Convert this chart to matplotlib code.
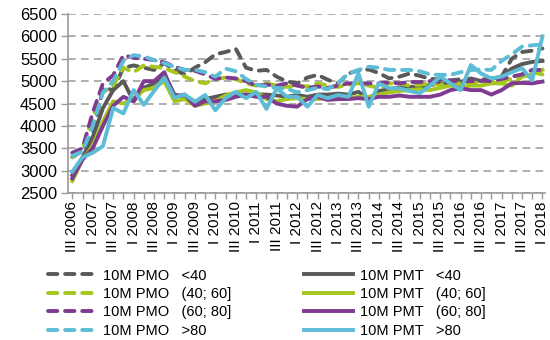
import matplotlib
matplotlib.use("Agg")
import matplotlib.pyplot as plt

plt.rcParams['font.family'] = ['Liberation Sans', 'DejaVu Sans']

# quarters III 2006 .. I 2018, labels on every second quarter
quarters = []
for year in range(2006, 2019):
    for q in ["I", "II", "III", "IV"]:
        quarters.append(q + " " + str(year))
quarters = quarters[2:49]

pmo_lt40 = [3300, 3450, 3800, 4850, 4800, 5300, 5350, 5300, 5250, 5400,
            5250, 5150, 5300, 5420, 5600, 5650, 5720, 5300, 5230, 5250,
            5100, 4990, 4950, 5080, 5140, 5030, 4950, 5170, 5240, 5260,
            5180, 5060, 5100, 5170, 5120, 5050, 5040, 5020, 5040, 5030,
            5030, 5060, 5100, 5500, 5650, 5680, 5730]
pmo_40_60 = [3300, 3500, 4200, 4750, 4900, 5300, 5200, 5350, 5320, 5290,
             5200, 5100, 5000, 4950, 5050, 5080, 5050, 4950, 4900, 4950,
             4900, 4870, 4900, 4880, 4950, 4900, 4870, 4920, 4950, 4900,
             4850, 4950, 4950, 4900, 4920, 4950, 4920, 4950, 4950, 4980,
             4950, 4970, 5000, 5050, 5150, 5200, 5150]
pmo_60_80 = [3400, 3500, 4300, 4950, 5130, 5580, 5520, 5500, 5470, 5420,
             5320, 5250, 5230, 5150, 5050, 5080, 5060, 5000, 4900, 4920,
             4900, 4950, 4900, 4850, 4880, 4850, 4900, 4950, 4950, 4950,
             4950, 4970, 4950, 4980, 4980, 5000, 4980, 5000, 5000, 5000,
             5010, 5000, 5050, 5100, 5150, 5250, 5250]
pmo_gt80 = [3330, 3430, 4000, 4750, 5000, 5450, 5580, 5550, 5470, 5400,
            5320, 5250, 5250, 5200, 5100, 5280, 5220, 5050, 4920, 4880,
            4850, 4830, 4750, 4800, 4850, 4820, 4950, 5170, 5250, 5320,
            5300, 5250, 5250, 5250, 5220, 5150, 5140, 5140, 5200, 5250,
            5260, 5250, 5450, 5600, 5770, 5800, 5820]
pmt_lt40 = [2900, 3300, 3750, 4400, 4800, 5000, 4550, 4850, 4950, 5150,
            4700, 4650, 4550, 4600, 4650, 4700, 4700, 4700, 4700, 4700,
            4680, 4650, 4690, 4650, 4700, 4700, 4720, 4700, 4760, 4600,
            4780, 4820, 4860, 4870, 4880, 4910, 4950, 4950, 4980, 5060,
            5000, 5050, 5100, 5280, 5380, 5430, 5450]
pmt_40_60 = [2770, 3250, 3550, 4100, 4550, 4500, 4600, 4800, 4850, 5000,
             4550, 4600, 4450, 4500, 4550, 4680, 4750, 4800, 4750, 4600,
             4550, 4600, 4620, 4600, 4600, 4620, 4650, 4620, 4650, 4650,
             4700, 4750, 4780, 4800, 4820, 4800, 4850, 4900, 4870, 4900,
             4900, 4950, 4950, 4900, 5100, 5150, 5250]
pmt_60_80 = [2830, 3250, 3500, 4000, 4450, 4650, 4550, 5000, 5000, 5200,
             4650, 4700, 4450, 4550, 4550, 4580, 4650, 4700, 4650, 4650,
             4500, 4450, 4430, 4600, 4650, 4580, 4600, 4600, 4620, 4600,
             4650, 4650, 4680, 4650, 4650, 4650, 4700, 4800, 4840, 4800,
             4800, 4700, 4800, 4950, 4960, 4950, 4990]
pmt_gt80 = [2980, 3300, 3400, 3550, 4400, 4280, 4800, 4470, 4780, 5080,
            4630, 4700, 4540, 4690, 4350, 4620, 4760, 4620, 4760, 4380,
            4840, 4650, 4650, 4430, 4690, 4620, 4690, 4650, 5170, 4430,
            4950, 4840, 4840, 4780, 4730, 4900, 5100, 4950, 4800, 5360,
            5170, 5060, 5100, 5200, 5290, 5020, 6000]

gray = '#595959'
lime = '#A5C61D'
purple = '#7E3B8F'
cyan = '#5DBCD6'

# excel series order (later on top)
series = [
    (pmo_lt40, gray, True, "10M PMO   <40"),
    (pmt_lt40, gray, False, "10M PMT   <40"),
    (pmo_40_60, lime, True, "10M PMO   (40; 60]"),
    (pmt_40_60, lime, False, "10M PMT   (40; 60]"),
    (pmo_60_80, purple, True, "10M PMO   (60; 80]"),
    (pmt_60_80, purple, False, "10M PMT   (60; 80]"),
    (pmo_gt80, cyan, True, "10M PMO   >80"),
    (pmt_gt80, cyan, False, "10M PMT   >80"),
]

fig = plt.figure(figsize=(5.5, 3.4), dpi=100)
ax = fig.add_axes([0.124, 0.432, 0.866, 0.527])

x = list(range(len(quarters)))
handles = {}
for vals, col, dashed, lab in series:
    if dashed:
        ln, = ax.plot(x, vals, color=col, lw=2.8, linestyle=(0, (2.4, 2.0)),
                      dash_capstyle='round', solid_joinstyle='round', label=lab)
    else:
        ln, = ax.plot(x, vals, color=col, lw=2.8, solid_joinstyle='round', label=lab)
    handles[lab] = ln

ax.set_ylim(2500, 6500)
ax.set_yticks(range(2500, 6501, 500))
ax.set_xlim(-0.4, len(quarters) - 0.8)
ax.set_xticks(x[::2])
ax.set_xticklabels(quarters[::2], rotation=90, fontsize=11)
ax.set_xticks(x, minor=True)
ax.tick_params(axis='y', labelsize=12, length=5, color='#999999', width=1, pad=3)
ax.tick_params(axis='x', which='both', length=4, color='#999999', width=1, pad=2)

ax.yaxis.grid(True, color='#999999', lw=1.1, linestyle=(0, (5, 3.5)))
ax.set_axisbelow(True)
for s in ['top', 'right']:
    ax.spines[s].set_visible(False)
for s in ['left', 'bottom']:
    ax.spines[s].set_color('#999999')
    ax.spines[s].set_linewidth(1.2)

order = [s[3] for s in series[0::2]] + [s[3] for s in series[1::2]]
leg = fig.legend([handles[k] for k in order], order, loc='upper left',
                 bbox_to_anchor=(0.087, 0.21), ncol=2, frameon=False,
                 fontsize=10.5, handlelength=3.3, handletextpad=0.5,
                 columnspacing=5.0, labelspacing=0.3, borderpad=0,
                 borderaxespad=0)

fig.savefig("out.png", dpi=100)
